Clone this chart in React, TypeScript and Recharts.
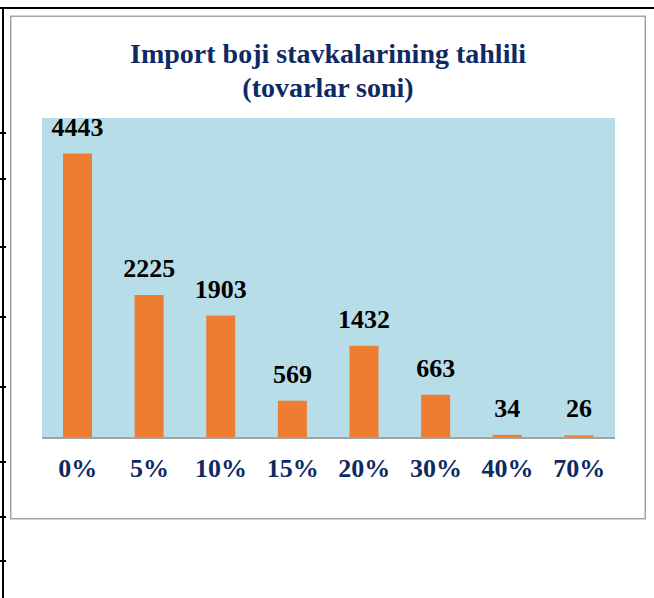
import React from 'react';
import { BarChart, Bar, XAxis, YAxis, CartesianGrid, LabelList } from 'recharts';

const categories = ['0%', '5%', '10%', '15%', '20%', '30%', '40%', '70%'];
const counts = [4443, 2225, 1903, 569, 1432, 663, 34, 26];
const titleLines = ['Import boji stavkalarining tahlili', '(tovarlar soni)'];
const yDomain = [0, 5000];

const data = categories.map((c, i) => ({ category: c, count: counts[i] }));

const FONT = '"Liberation Serif", "Times New Roman", serif';
const NAVY = '#0f2a63';

const XTick = (props: any) => {
  const { x, y, payload } = props;
  return (
    <text x={x} y={y + 32} textAnchor="middle" fill={NAVY} fontFamily={FONT} fontWeight="bold" fontSize={26}>
      {payload.value}
    </text>
  );
};

const ValueLabel = (props: any) => {
  const { x, y, width, value } = props;
  return (
    <text x={x + width / 2} y={y - 18} textAnchor="middle" fill="#000" fontFamily={FONT} fontWeight="bold" fontSize={26}>
      {value}
    </text>
  );
};

const Decor = () => {
  const ruleYs = [133, 179, 247, 317, 387, 462, 517, 561];
  return (
    <svg width={654} height={598} style={{ position: 'absolute', left: 0, top: 0 }}>
      <rect x={0} y={7} width={654} height={2} fill="#000" />
      <rect x={2} y={7} width={2} height={591} fill="#000" />
      {ruleYs.map((ry) => (
        <rect key={ry} x={0} y={ry - 1} width={6} height={2} fill="#000" />
      ))}
      <rect x={10.75} y={16.25} width={634.5} height={502.5} fill="#fff" stroke="#a3a3a3" strokeWidth={1.5} />
      <text x={328} y={63} textAnchor="middle" fill={NAVY} fontFamily={FONT} fontWeight="bold" fontSize={28}>
        {titleLines[0]}
      </text>
      <text x={328} y={97} textAnchor="middle" fill={NAVY} fontFamily={FONT} fontWeight="bold" fontSize={28}>
        {titleLines[1]}
      </text>
    </svg>
  );
};

export default function App() {
  return (
    <div style={{ position: 'absolute', left: 0, top: 0, width: 654, height: 598, background: '#fff' }}>
      <Decor />
      <div style={{ position: 'absolute', left: 0, top: 0 }}>
        <BarChart
          width={654}
          height={598}
          data={data}
          margin={{ top: 118, left: 42, right: 39, bottom: 101 }}
        >
          <CartesianGrid horizontal={false} vertical={false} fill="#b7dde8" stroke="none" />
          <YAxis hide domain={yDomain} type="number" />
          <XAxis
            dataKey="category"
            height={60}
            tickLine={false}
            axisLine={{ stroke: '#a3a3a3', strokeWidth: 2, transform: 'translate(0,1)' }}
            tick={<XTick />}
            interval={0}
          />
          <Bar dataKey="count" fill="#ed7d31" barSize={29} isAnimationActive={false}>
            <LabelList dataKey="count" content={<ValueLabel />} />
          </Bar>
        </BarChart>
      </div>
    </div>
  );
}
